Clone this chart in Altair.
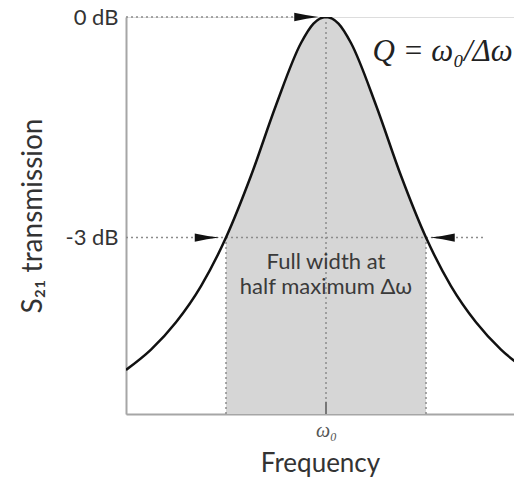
import altair as alt
import pandas as pd

# Resonance curve: detuning from the centre frequency (in half-widths) and linear transmission
freq = [-2.0, -1.75, -1.5, -1.25, -1.0, -0.75, -0.5, -0.25, -0.125, 0.0,
        0.125, 0.25, 0.5, 0.75, 1.0, 1.25, 1.5, 1.75, 2.0]
trans = [0.20, 0.246, 0.308, 0.39, 0.50, 0.64, 0.80, 0.941, 0.985, 1.0,
         0.985, 0.941, 0.80, 0.64, 0.50, 0.39, 0.308, 0.246, 0.20]

# Reference levels on the transmission axis
level_values = [0.5, 1.0]
level_labels = ["-3 dB", "0 dB"]

# Dotted guide segments
guide_x = [-2.0, -2.0, -1.0, 1.0, 0.0]
guide_x2 = [-0.31, 1.59, -1.0, 1.0, 0.0]
guide_y = [1.0, 0.5, 0.1, 0.1, 0.1]
guide_y2 = [1.0, 0.5, 0.5, 0.5, 1.0]

# Arrow heads
arrow_x = [-0.195, -1.19, 1.165]
arrow_y = [1.0, 0.5, 0.5]
arrow_dir = ["right", "right", "left"]

X_DOMAIN = [-2.0, 1.88]
Y_DOMAIN = [0.1, 1.0]
FONT = "Lato"

curve = pd.DataFrame({"f": freq, "s": trans})
band = curve[(curve.f >= -1.0) & (curve.f <= 1.0)].assign(base=Y_DOMAIN[0])
guides = pd.DataFrame({"x": guide_x, "x2": guide_x2, "y": guide_y, "y2": guide_y2})
arrows = pd.DataFrame({"x": arrow_x, "y": arrow_y, "dir": arrow_dir})

xs = alt.Scale(domain=X_DOMAIN, nice=False, zero=False)
ys = alt.Scale(domain=Y_DOMAIN, nice=False, zero=False)

label_expr = " : ".join(
    f"datum.value == {v} ? '{t}'" for v, t in zip(level_values, level_labels)
) + " : ''"

x_axis = alt.Axis(
    values=[0], labelExpr="'ω₀'", ticks=False, grid=False,
    domainColor="#a6a6a6", domainWidth=2,
    labelFont="Liberation Serif", labelFontStyle="italic", labelFontSize=20,
    labelColor="#555555", labelPadding=6,
    title="Frequency", titleFont=FONT, titleFontSize=26, titleFontWeight="normal",
    titleColor="#333333", titlePadding=10,
)
y_axis = alt.Axis(
    values=level_values, labelExpr=label_expr, ticks=False, grid=False,
    domainColor="#a6a6a6", domainWidth=2,
    labelFont=FONT, labelFontSize=22, labelColor="#333333", labelPadding=8,
    title="S₂₁ transmission", titleFont=FONT, titleFontSize=28, titleFontWeight="normal",
    titleColor="#333333", titlePadding=18,
)

area = alt.Chart(band).mark_area(color="#d6d6d6", interpolate="monotone", clip=True).encode(
    x=alt.X("f:Q", scale=xs, axis=x_axis),
    y=alt.Y("s:Q", scale=ys, axis=y_axis),
    y2="base:Q",
)

dotted = alt.Chart(guides).mark_rule(
    color="#8c8c8c", strokeDash=[2, 3], strokeWidth=1.5
).encode(
    x=alt.X("x:Q", scale=xs), x2="x2:Q",
    y=alt.Y("y:Q", scale=ys), y2="y2:Q",
)

centre_tick = alt.Chart(pd.DataFrame({"x": [0.0], "y": [0.1], "y2": [0.128]})).mark_rule(
    color="#777777", strokeWidth=2
).encode(x=alt.X("x:Q", scale=xs), y=alt.Y("y:Q", scale=ys), y2="y2:Q")

line = alt.Chart(curve).mark_line(
    color="#111111", strokeWidth=2.5, interpolate="monotone", clip=True
).encode(
    x=alt.X("f:Q", scale=xs),
    y=alt.Y("s:Q", scale=ys),
)

head_right = "M-1,-0.34 Q0,-0.12 1,0 Q0,0.12 -1,0.34 Z"
head_left = "M1,-0.34 Q0,-0.12 -1,0 Q0,0.12 1,0.34 Z"
heads = alt.Chart(arrows).mark_point(filled=True, opacity=1, size=600, color="#111111").encode(
    x=alt.X("x:Q", scale=xs),
    y=alt.Y("y:Q", scale=ys),
    shape=alt.Shape("dir:N", scale=alt.Scale(domain=["right", "left"],
                                             range=[head_right, head_left]), legend=None),
)

fwhm_text = alt.Chart(pd.DataFrame({"x": [0.0], "y": [0.444],
                                    "t": ["Full width at\nhalf maximum Δω"]})).mark_text(
    font=FONT, fontSize=22, color="#3a3a3a", align="center", baseline="middle",
    lineBreak="\n", lineHeight=25,
).encode(x=alt.X("x:Q", scale=xs), y=alt.Y("y:Q", scale=ys), text="t:N")

q_text = alt.Chart(pd.DataFrame({"x": [0.465], "y": [0.92], "t": ["Q = ω₀/Δω"]})).mark_text(
    font="Liberation Serif", fontStyle="italic", fontSize=31, color="#222222",
    align="left", baseline="middle",
).encode(x=alt.X("x:Q", scale=xs), y=alt.Y("y:Q", scale=ys), text="t:N")

chart = alt.layer(area, dotted, centre_tick, line, heads, fwhm_text, q_text).properties(
    width=388, height=397,
    autosize=alt.AutoSizeParams(type="none"),
    padding={"left": 126, "top": 17, "right": 0, "bottom": 68},
).configure_view(stroke=None).configure(background="white")

chart.save("out.html", embed_options={"renderer": "svg", "actions": False})
